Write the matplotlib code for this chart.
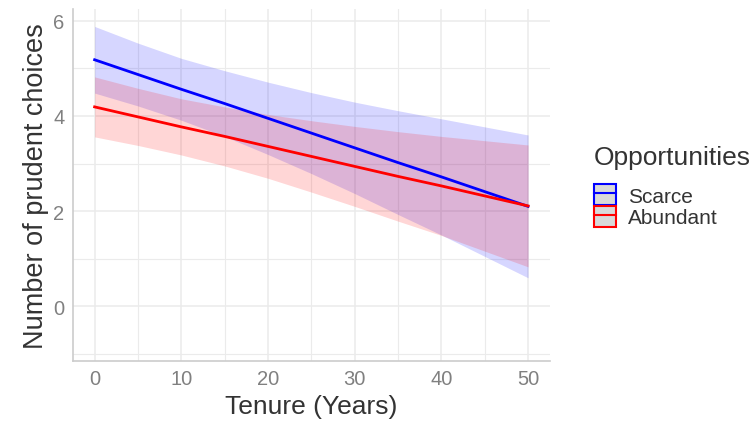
import matplotlib
matplotlib.use("Agg")
import matplotlib.pyplot as plt
from matplotlib.patches import Patch
from matplotlib.lines import Line2D
from matplotlib.legend_handler import HandlerTuple
from matplotlib.ticker import MultipleLocator

plt.rcParams["font.family"] = ["Liberation Sans", "DejaVu Sans"]

# Tenure grid for the fitted lines and their confidence bands
tenure = [0, 5, 10, 15, 20, 25, 30, 35, 40, 45, 50]

scarce_fit = [5.18, 4.87, 4.56, 4.26, 3.95, 3.64, 3.33, 3.02, 2.72, 2.41, 2.10]
scarce_hi = [5.88, 5.53, 5.21, 4.95, 4.71, 4.49, 4.29, 4.11, 3.94, 3.77, 3.60]
scarce_lo = [4.48, 4.21, 3.91, 3.57, 3.19, 2.79, 2.37, 1.93, 1.50, 1.05, 0.60]

abundant_fit = [4.19, 3.98, 3.77, 3.57, 3.36, 3.15, 2.94, 2.73, 2.53, 2.32, 2.11]
abundant_hi = [4.82, 4.58, 4.36, 4.19, 4.03, 3.90, 3.78, 3.67, 3.57, 3.48, 3.39]
abundant_lo = [3.56, 3.38, 3.18, 2.95, 2.69, 2.40, 2.10, 1.79, 1.49, 1.16, 0.83]

groups = ["Scarce", "Abundant"]
colors = {"Scarce": "#0000FF", "Abundant": "#FF0000"}
series = {
    "Scarce": (scarce_fit, scarce_lo, scarce_hi),
    "Abundant": (abundant_fit, abundant_lo, abundant_hi),
}

x_ticks = [0, 10, 20, 30, 40, 50]
y_ticks = [0, 2, 4, 6]

fig = plt.figure(figsize=(7.52, 4.27), dpi=100)
ax = fig.add_axes([0.097, 0.152, 0.634, 0.825])

# confidence ribbons first, lines on top
for g in groups:
    fit, lo, hi = series[g]
    ax.fill_between(tenure, lo, hi, color=colors[g], alpha=0.16, linewidth=0, zorder=2)
for g in groups:
    fit, lo, hi = series[g]
    ax.plot(tenure, fit, color=colors[g], linewidth=2.0, zorder=3)

ax.set_xlim(-2.5, 52.5)
ax.set_ylim(-1.15, 6.25)
ax.set_xticks(x_ticks)
ax.set_yticks(y_ticks)
ax.xaxis.set_minor_locator(MultipleLocator(5))
ax.yaxis.set_minor_locator(MultipleLocator(1))

ax.grid(which="major", color="#EBEBEB", linewidth=1.1, zorder=0)
ax.grid(which="minor", color="#EBEBEB", linewidth=0.8, zorder=0)
ax.set_axisbelow(True)

for side in ["top", "right"]:
    ax.spines[side].set_visible(False)
for side in ["left", "bottom"]:
    ax.spines[side].set_color("#CCCCCC")
    ax.spines[side].set_linewidth(1.2)

ax.tick_params(which="both", length=0, labelsize=14.5, labelcolor="#808080", pad=6)
ax.set_xlabel("Tenure (Years)", fontsize=19, color="#333333", labelpad=4)
ax.set_ylabel("Number of prudent choices", fontsize=19.5, color="#333333", labelpad=3)

handles = [
    (Patch(facecolor="#D9D9D9", edgecolor=colors[g], linewidth=1.5),
     Line2D([], [], color=colors[g], linewidth=1.5))
    for g in groups
]
leg = fig.legend(
    handles, groups,
    handler_map={tuple: HandlerTuple(ndivide=1, pad=0)},
    loc="upper left", bbox_to_anchor=(0.776, 0.683),
    frameon=False, fontsize=15, title="Opportunities", title_fontsize=19,
    handlelength=1.05, handleheight=1.2, labelspacing=0.0, handletextpad=0.6,
    borderpad=0, alignment="left",
)
# gap between the legend title and its keys
leg._legend_box.sep = 11
for t in leg.get_texts():
    t.set_color("#333333")
leg.get_title().set_color("#333333")

fig.savefig("out.png", dpi=100, facecolor="white")
